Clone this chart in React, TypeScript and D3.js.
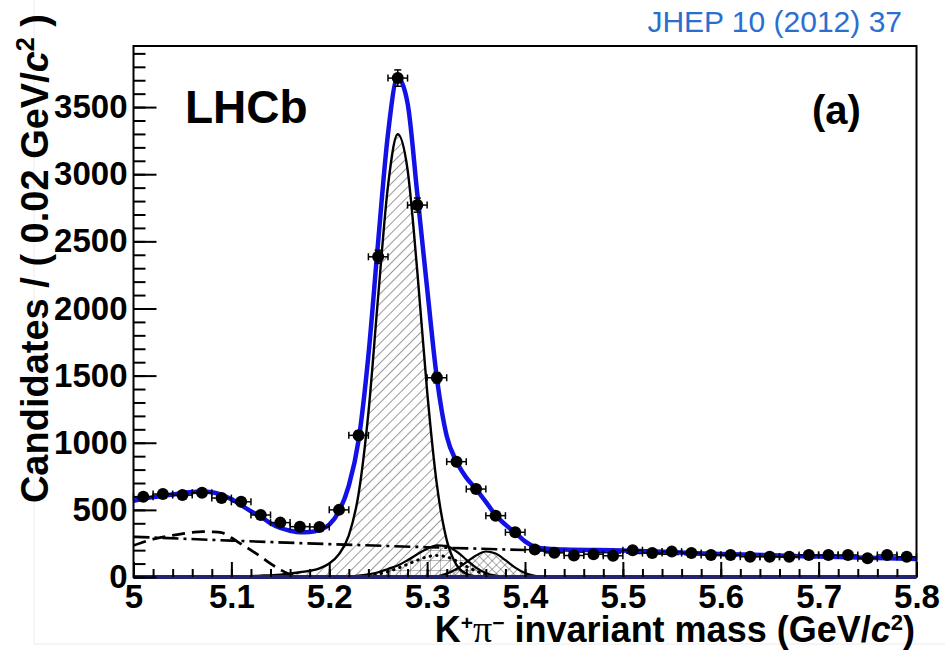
import React, { useRef, useLayoutEffect } from "react";
import * as d3 from "d3";

// K+ pi- invariant mass, 0.02 GeV/c^2 bins
const binCenters = [
  5.01, 5.03, 5.05, 5.07, 5.09, 5.11, 5.13, 5.15, 5.17, 5.19,
  5.21, 5.23, 5.25, 5.27, 5.29, 5.31, 5.33, 5.35, 5.37, 5.39,
  5.41, 5.43, 5.45, 5.47, 5.49, 5.51, 5.53, 5.55, 5.57, 5.59,
  5.61, 5.63, 5.65, 5.67, 5.69, 5.71, 5.73, 5.75, 5.77, 5.79,
];
const candidates = [
  598, 618, 610, 628, 588, 560, 462, 405, 375, 373,
  500, 1055, 2385, 3716, 2770, 1484, 859, 655, 457, 333,
  204, 180, 160, 170, 158, 200, 178, 189, 178, 164,
  164, 151, 151, 151, 164, 164, 164, 140, 164, 151,
];

// total fit (blue)
const totalMass = [
  5.0, 5.02, 5.04, 5.06, 5.07, 5.08, 5.1, 5.12, 5.13, 5.14, 5.15, 5.16, 5.17, 5.18,
  5.19, 5.2, 5.21, 5.22, 5.23, 5.24, 5.25, 5.26, 5.27, 5.28, 5.29, 5.3, 5.31, 5.32,
  5.33, 5.34, 5.35, 5.36, 5.37, 5.38, 5.39, 5.4, 5.41, 5.42, 5.44, 5.5, 5.6, 5.7, 5.8,
];
const totalFit = [
  568, 595, 615, 633, 637, 632, 580, 490, 450, 400, 365, 345, 333, 335,
  350, 390, 490, 680, 1020, 1650, 2500, 3300, 3720, 3530, 2850, 2150, 1480, 1050,
  860, 740, 655, 560, 460, 390, 330, 265, 225, 212, 205, 198, 172, 152, 134,
];

// B0 -> K+ pi- signal (hatched)
const signalMass = [
  5.0, 5.05, 5.1, 5.13, 5.15, 5.17, 5.19, 5.2, 5.21, 5.22, 5.23, 5.24, 5.25, 5.26,
  5.27, 5.28, 5.29, 5.3, 5.31, 5.32, 5.33, 5.34, 5.35, 5.36, 5.37, 5.8,
];
const signalFit = [
  0, 1, 4, 10, 18, 35, 65, 100, 170, 310, 620, 1222, 2092, 2912,
  3298, 3035, 2273, 1385, 686, 276, 90, 24, 5, 1, 0, 0,
];

// mis-identified two-body (grid fill)
const misidMass = [5.2, 5.23, 5.24, 5.25, 5.26, 5.27, 5.28, 5.29, 5.3, 5.31, 5.32, 5.33, 5.34, 5.35, 5.36, 5.37, 5.38, 5.39];
const misidFit = [0, 10, 20, 35, 60, 85, 125, 170, 210, 235, 230, 190, 130, 70, 30, 10, 2, 0];

// dotted component
const dottedMass = [5.22, 5.24, 5.26, 5.27, 5.28, 5.29, 5.3, 5.31, 5.32, 5.33, 5.34, 5.35, 5.36, 5.37, 5.38];
const dottedFit = [0, 10, 40, 65, 95, 125, 150, 160, 150, 120, 80, 45, 20, 5, 0];

// Bs -> K- pi+ (cross hatched)
const bsMass = [5.3, 5.31, 5.32, 5.33, 5.34, 5.35, 5.36, 5.37, 5.38, 5.39, 5.4, 5.41, 5.42];
const bsFit = [0, 5, 25, 60, 110, 160, 190, 175, 125, 70, 30, 8, 0];

// combinatorial (dash-dot)
const combMass = [5.0, 5.1, 5.2, 5.3, 5.4, 5.5, 5.6, 5.7, 5.8];
const combFit = [300, 271, 245, 222, 201, 182, 164, 148, 134];

// partially reconstructed (dashed)
const partialMass = [5.0, 5.02, 5.04, 5.06, 5.07, 5.08, 5.09, 5.1, 5.11, 5.12, 5.13, 5.14, 5.15, 5.16, 5.17, 5.18];
const partialFit = [235, 282, 310, 332, 338, 336, 330, 292, 245, 200, 152, 100, 55, 18, 3, 0];

const majorY = [0, 500, 1000, 1500, 2000, 2500, 3000, 3500];
const majorX = [5.0, 5.1, 5.2, 5.3, 5.4, 5.5, 5.6, 5.7, 5.8];

const FONT = "'Liberation Sans', Arial, Helvetica, sans-serif";

const App = () => {
  const W = 945, H = 650;
  const left = 133.5, right = 916.5, top = 46, bottom = 577;

  const x = d3.scaleLinear().domain([5, 5.8]).range([left, right]);
  const y = d3.scaleLinear().domain([0, 3955]).range([bottom, top]);

  const xAxisRef = useRef(null);
  const yAxisRef = useRef(null);

  useLayoutEffect(() => {
    const minorX = d3.range(0, 41).map((i) => 5 + i * 0.02);
    const minorY = d3.range(0, 3955, 100);

    const gx = d3.select(xAxisRef.current);
    gx.selectAll("*").remove();
    gx.append("g").call(d3.axisBottom(x).tickValues(minorX).tickSize(-8).tickFormat(() => ""));
    gx.append("g").call(
      d3.axisBottom(x).tickValues(majorX).tickSize(-15).tickPadding(8).tickFormat(d3.format("~g"))
    );

    const gy = d3.select(yAxisRef.current);
    gy.selectAll("*").remove();
    gy.append("g").call(d3.axisLeft(y).tickValues(minorY).tickSize(-12).tickFormat(() => ""));
    gy.append("g").call(d3.axisLeft(y).tickValues(majorY).tickSize(-23).tickPadding(6).tickFormat(d3.format("d")));

    [gx, gy].forEach((g) => {
      g.selectAll(".domain").remove();
      g.selectAll("g").attr("font-size", 33).attr("font-family", FONT).attr("font-weight", "bold");
      g.selectAll("line").attr("stroke", "#000").attr("stroke-width", 2);
      g.selectAll("text").attr("fill", "#000");
    });
  }, []);

  const line = (xs, ys) =>
    d3.line().x((d, i) => x(xs[i])).y((d, i) => y(ys[i])).curve(d3.curveMonotoneX)(ys);
  const area = (xs, ys) =>
    d3.area().x((d, i) => x(xs[i])).y0(y(0)).y1((d, i) => y(ys[i])).curve(d3.curveMonotoneX)(ys);

  const halfBin = 0.01;

  return (
    <svg width={W} height={H} style={{ position: "absolute", left: 0, top: 0, background: "#fff" }}>
      <defs>
        <clipPath id="plotClip">
          <rect x={left} y={top} width={right - left} height={bottom - top} />
        </clipPath>
        <pattern id="diag" patternUnits="userSpaceOnUse" width="7" height="7" patternTransform="rotate(45)">
          <line x1="0" y1="0" x2="0" y2="7" stroke="#333" strokeWidth="1" />
        </pattern>
        <pattern id="cross" patternUnits="userSpaceOnUse" width="6" height="6" patternTransform="rotate(45)">
          <line x1="0" y1="0" x2="0" y2="6" stroke="#444" strokeWidth="0.9" />
          <line x1="0" y1="0" x2="6" y2="0" stroke="#444" strokeWidth="0.9" />
        </pattern>
        <pattern id="grid" patternUnits="userSpaceOnUse" width="10" height="10">
          <line x1="0" y1="0" x2="0" y2="10" stroke="#555" strokeWidth="0.8" />
          <line x1="0" y1="0" x2="10" y2="0" stroke="#555" strokeWidth="0.8" />
        </pattern>
      </defs>

      {/* faint page frame */}
      <line x1={34} y1={0} x2={34} y2={644} stroke="#ececec" strokeWidth={1} />
      <line x1={34} y1={644} x2={945} y2={644} stroke="#ececec" strokeWidth={1} />

      <text x={902} y={32} textAnchor="end" fontFamily={FONT} fontSize={30} fill="#2a6fd0">
        JHEP 10 (2012) 37
      </text>

      <g clipPath="url(#plotClip)">
        <path d={area(signalMass, signalFit)} fill="url(#diag)" />
        <path d={area(misidMass, misidFit)} fill="url(#grid)" />
        <path d={area(bsMass, bsFit)} fill="url(#cross)" />

        <path d={line(signalMass, signalFit)} fill="none" stroke="#000" strokeWidth={2.4} />
        <path d={line(misidMass, misidFit)} fill="none" stroke="#000" strokeWidth={2.2} />
        <path d={line(bsMass, bsFit)} fill="none" stroke="#000" strokeWidth={2.2} />
        <path d={line(dottedMass, dottedFit)} fill="none" stroke="#000" strokeWidth={3}
          strokeDasharray="0.5 6" strokeLinecap="round" />

        <path d={line(combMass, combFit)} fill="none" stroke="#000" strokeWidth={2.6}
          strokeDasharray="16 5 3 5" />
        <path d={line(partialMass, partialFit)} fill="none" stroke="#000" strokeWidth={2.8}
          strokeDasharray="13 7" />

        <path d={line(totalMass, totalFit)} fill="none" stroke="#1212e6" strokeWidth={4.5} />
      </g>

      {/* frame */}
      <rect x={left} y={top} width={right - left} height={bottom - top} fill="none" stroke="#000" strokeWidth={2} />
      <line x1={left} y1={bottom} x2={right} y2={bottom} stroke="#23236e" strokeWidth={4} />

      <g ref={xAxisRef} transform={`translate(0,${bottom})`} />
      <g ref={yAxisRef} transform={`translate(${left},0)`} />

      {/* data */}
      <g>
        {binCenters.map((m, i) => {
          const cx = x(m), cy = y(candidates[i]);
          const err = Math.sqrt(candidates[i]);
          const x0 = x(m - halfBin), x1 = x(m + halfBin);
          const yt = y(candidates[i] + err), yb = y(candidates[i] - err);
          return (
            <g key={i} stroke="#000" strokeWidth={1.5}>
              <line x1={x0} y1={cy} x2={x1} y2={cy} />
              <line x1={x0} y1={cy - 3.5} x2={x0} y2={cy + 3.5} />
              <line x1={x1} y1={cy - 3.5} x2={x1} y2={cy + 3.5} />
              <line x1={cx} y1={yt} x2={cx} y2={yb} />
              <line x1={cx - 3.5} y1={yt} x2={cx + 3.5} y2={yt} />
              <line x1={cx - 3.5} y1={yb} x2={cx + 3.5} y2={yb} />
              <circle cx={cx} cy={cy} r={6} fill="#000" stroke="none" />
            </g>
          );
        })}
      </g>

      <text x={185} y={123} fontFamily={FONT} fontWeight="bold" fontSize={46}>LHCb</text>
      <text x={812} y={124} fontFamily={FONT} fontWeight="bold" fontSize={40}>(a)</text>

      <text transform="translate(48,14) rotate(-90)" textAnchor="end" fontFamily={FONT}
        fontWeight="bold" fontSize={38}>
        Candidates / ( 0.02 GeV/<tspan fontStyle="italic">c</tspan>
        <tspan dy={-14} fontSize={25}>2</tspan>
        <tspan dy={14}> )</tspan>
      </text>

      <text x={915} y={642} textAnchor="end" fontFamily={FONT} fontWeight="bold" fontSize={36}>
        K<tspan dy={-12} fontSize={21}>+</tspan>
        <tspan dy={12} fontFamily="'Liberation Serif', serif" fontWeight="normal" fontSize={38}>π</tspan>
        <tspan dy={-12} fontSize={21}>−</tspan>
        <tspan dy={12}> invariant mass (GeV/</tspan>
        <tspan fontStyle="italic">c</tspan>
        <tspan dy={-12} fontSize={22}>2</tspan>
        <tspan dy={12}>)</tspan>
      </text>
    </svg>
  );
};

export default App;
